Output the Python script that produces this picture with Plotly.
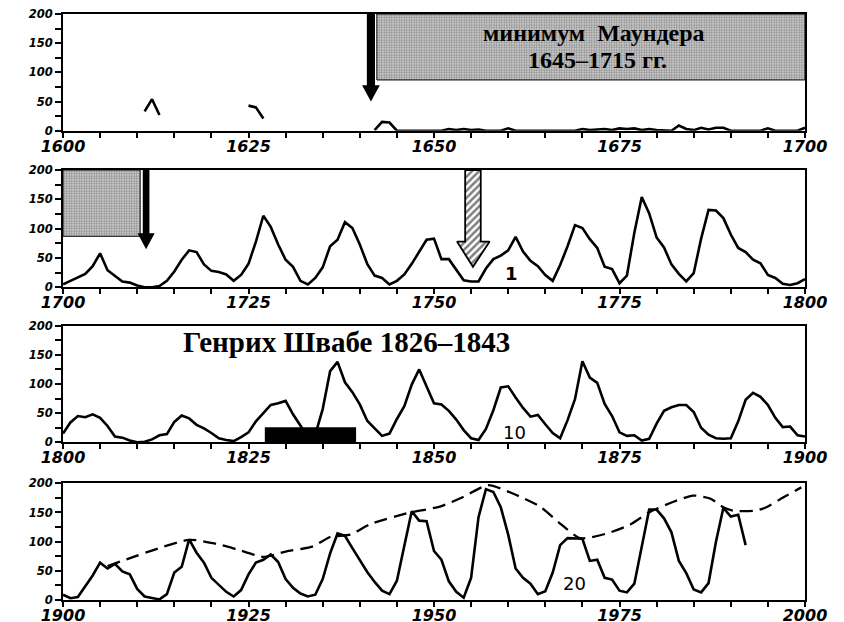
import plotly.graph_objects as go
from plotly.subplots import make_subplots

# ---------------- data ----------------
# Panel 1 (1600-1700): fragmentary observations, gaps as None
p1_years = [1611, 1612, 1613, None, 1625, 1626, 1627, None,
            1642, 1643, 1644, 1645, 1646, 1647, 1648, 1649, 1650, 1651, 1652, 1653,
            1654, 1655, 1656, 1657, 1658, 1659, 1660, 1661, 1662, 1663, 1664, 1665,
            1666, 1667, 1668, 1669, 1670, 1671, 1672, 1673, 1674, 1675, 1676, 1677,
            1678, 1679, 1680, 1681, 1682, 1683, 1684, 1685, 1686, 1687, 1688, 1689,
            1690, 1691, 1692, 1693, 1694, 1695, 1696, 1697, 1698, 1699, 1700]
p1_values = [33, 54, 27, None, 43, 40, 21, None,
             1, 15, 14, 0, 0, 0, 0, 0, 0, 0, 3, 1,
             3, 1, 2, 0, 0, 0, 4, 0, 0, 0, 0, 0,
             0, 0, 0, 0, 3, 1, 2, 3, 1, 4, 3, 4,
             1, 3, 1, 0, 0, 9, 3, 1, 5, 2, 5, 5,
             0, 0, 0, 0, 0, 4, 0, 0, 0, 0, 5]

p2_start = 1700
p2_values = [5, 11, 16, 23, 36, 58, 29, 20, 10, 8, 3, 0, 0, 2, 11, 27, 47, 63, 60, 39,
             28, 26, 22, 11, 21, 40, 78, 122, 103, 73, 47, 35, 11, 5, 16, 34, 70, 81, 111, 101,
             73, 40, 20, 16, 5, 11, 22, 40, 60, 81, 83, 48, 48, 31, 12, 10, 10, 32, 48, 54,
             63, 86, 61, 45, 36, 21, 11, 38, 70, 106, 101, 82, 67, 35, 31, 7, 20, 93, 154, 126,
             85, 68, 39, 23, 10, 24, 83, 132, 131, 118, 90, 67, 60, 47, 41, 21, 16, 6, 4, 7, 14]

p3_start = 1800
p3_values = [15, 34, 45, 43, 48, 42, 28, 10, 8, 3, 0, 1, 5, 12, 14, 35, 46, 41, 30, 24,
             16, 7, 4, 2, 9, 17, 36, 50, 64, 67, 71, 48, 28, 9, 13, 57, 122, 138, 103, 86,
             65, 37, 24, 11, 15, 40, 62, 99, 125, 96, 67, 65, 54, 39, 21, 7, 4, 23, 55, 94,
             96, 77, 59, 44, 47, 31, 16, 7, 38, 74, 139, 111, 102, 66, 45, 17, 11, 12, 3, 6,
             32, 54, 60, 64, 64, 52, 25, 13, 7, 6, 7, 36, 73, 85, 78, 64, 42, 26, 27, 12, 10]

p4_start = 1900
p4_values = [9, 3, 5, 24, 42, 64, 54, 62, 49, 44, 19, 6, 4, 1, 10, 47, 57, 104, 81, 64,
             38, 26, 14, 6, 17, 44, 64, 69, 78, 65, 36, 21, 11, 6, 9, 36, 80, 114, 110, 89,
             68, 48, 31, 16, 10, 33, 93, 152, 136, 135, 84, 69, 32, 14, 4, 38, 142, 190, 185, 159,
             112, 54, 38, 28, 10, 15, 47, 94, 106, 106, 105, 67, 69, 38, 35, 16, 13, 28, 93, 155,
             155, 140, 116, 67, 46, 18, 13, 29, 100, 158, 143, 146, 94]

# dashed envelope in panel 4
env_years = [1906, 1917, 1920.7, 1923.4, 1927, 1930, 1933.7, 1936, 1938.7, 1941.4, 1946.8,
             1950.8, 1954, 1957.3, 1960.7, 1964.3, 1967, 1969.7, 1973.3, 1976.4, 1979.1,
             1982.2, 1984.9, 1987.2, 1989, 1990.3, 1993.3, 1994.8, 1997.1, 1999.5]
env_values = [58, 103, 96, 87, 74, 83, 92, 108, 112, 130, 150,
              160, 177, 197, 182, 160, 131, 106, 114, 129, 151,
              168, 179, 174, 159, 153, 153, 159, 176, 193]

# axis ticks
panel_starts = [1600, 1700, 1800, 1900]
y_tickvals = [0, 25, 50, 75, 100, 125, 150, 175, 200]
y_ticktext = ['0', '', '50', '', '100', '', '150', '', '200']

# text labels
maunder_line1 = 'минимум  Маундера'
maunder_line2 = '1645–1715 гг.'
schwabe_text = 'Генрих Швабе 1826–1843'
curve_labels = ['1', '10', '20']

# ---------------- figure ----------------
OFF = 8  # default page body margin
W, H = 844 - OFF, 622 - OFF
L, R = 63 - OFF, 805 - OFF
panel_px = [(14, 130.7), (170, 287.3), (325.7, 442.3), (483.3, 600)]
panel_px = [(a - OFF, b - OFF) for a, b in panel_px]

fig = make_subplots(rows=4, cols=1)

LINE_W = 2.6
tick_font = dict(family='DejaVu Sans', size=16, color='black', weight='bold')
ytick_font = dict(family='DejaVu Sans', size=11.5, color='black', weight='bold')

stipple = dict(shape='.', fgcolor='#3a3a3a', bgcolor='#d2d2d2', size=2.5, solidity=0.45)

# gray boxes (stippled)
fig.add_trace(go.Scatter(x=[1642.3, 1700, 1700, 1642.3, 1642.3], y=[87, 87, 200, 200, 87],
                         mode='lines', fill='toself', fillpattern=stipple,
                         line=dict(color='black', width=1), hoverinfo='skip', showlegend=False),
              row=1, col=1)
fig.add_trace(go.Scatter(x=[1700, 1710.4, 1710.4, 1700, 1700], y=[87, 87, 200, 200, 87],
                         mode='lines', fill='toself', fillpattern=stipple,
                         line=dict(color='black', width=1), hoverinfo='skip', showlegend=False),
              row=2, col=1)

# data lines
line_style = dict(color='black', width=LINE_W)
fig.add_trace(go.Scatter(x=p1_years, y=p1_values, mode='lines', line=line_style,
                         connectgaps=False, showlegend=False), row=1, col=1)
fig.add_trace(go.Scatter(x=list(range(p2_start, p2_start + len(p2_values))), y=p2_values,
                         mode='lines', line=line_style, showlegend=False), row=2, col=1)
fig.add_trace(go.Scatter(x=list(range(p3_start, p3_start + len(p3_values))), y=p3_values,
                         mode='lines', line=line_style, showlegend=False), row=3, col=1)
fig.add_trace(go.Scatter(x=list(range(p4_start, p4_start + len(p4_values))), y=p4_values,
                         mode='lines', line=line_style, showlegend=False), row=4, col=1)
fig.add_trace(go.Scatter(x=env_years, y=env_values, mode='lines',
                         line=dict(color='black', width=2.3, dash='13px,7px', shape='spline', smoothing=0.6),
                         showlegend=False), row=4, col=1)

# hatched arrow (panel 2)
hx = [1754.2, 1756.3, 1756.3, 1757.5, 1755.25, 1753.1, 1754.2, 1754.2]
hy = [200, 200, 78, 78, 35, 78, 78, 200]
fig.add_trace(go.Scatter(x=hx, y=hy, mode='lines', fill='toself',
                         fillpattern=dict(shape='/', fgcolor='black', bgcolor='white', size=5, solidity=0.5),
                         line=dict(color='black', width=1.8), hoverinfo='skip', showlegend=False),
              row=2, col=1)

# black solid arrows
def arrow_path(xc, half_shaft, half_head, head_top, tip):
    return (f'M {xc-half_shaft},200 L {xc+half_shaft},200 L {xc+half_shaft},{head_top} '
            f'L {xc+half_head},{head_top} L {xc},{tip} L {xc-half_head},{head_top} '
            f'L {xc-half_shaft},{head_top} Z')

fig.add_shape(type='path', path=arrow_path(1641.5, 0.55, 1.2, 78, 50),
              xref='x', yref='y', fillcolor='black', line=dict(color='black', width=0), layer='above')
fig.add_shape(type='path', path=arrow_path(1711.2, 0.45, 1.15, 92, 65),
              xref='x2', yref='y2', fillcolor='black', line=dict(color='black', width=0), layer='above')

# black bar (panel 3)
fig.add_shape(type='rect', x0=1827.2, x1=1839.5, y0=0, y1=26, xref='x3', yref='y3',
              fillcolor='black', line=dict(color='black', width=0), layer='above')

# annotations
serif = dict(family='Liberation Serif', color='black', weight='bold')
fig.add_annotation(x=1671.5, y=167, xref='x', yref='y', text=maunder_line1, showarrow=False,
                   font=dict(size=24, **serif))
fig.add_annotation(x=1672, y=121, xref='x', yref='y', text=maunder_line2, showarrow=False,
                   font=dict(size=24, **serif))
fig.add_annotation(x=1838.2, y=172, xref='x3', yref='y3', text=schwabe_text, showarrow=False,
                   font=dict(size=29, **serif))
lab_font = dict(family='DejaVu Sans', size=18, color='black')
fig.add_annotation(x=1760.5, y=24, xref='x2', yref='y2', text=curve_labels[0], showarrow=False,
                   font=dict(lab_font, weight='bold'))
fig.add_annotation(x=1860.9, y=16, xref='x3', yref='y3', text=curve_labels[1], showarrow=False,
                   font=lab_font)
fig.add_annotation(x=1969, y=29, xref='x4', yref='y4', text=curve_labels[2], showarrow=False,
                   font=lab_font)

# axes
for i, start in enumerate(panel_starts):
    n = '' if i == 0 else str(i + 1)
    top, bot = panel_px[i]
    xt = list(range(start, start + 101, 5))
    xtext = ['<i>' + str(v) + '</i>' if (v - start) % 25 == 0 else '' for v in xt]
    fig.layout['xaxis' + n].update(
        range=[start, start + 100], tickvals=xt, ticktext=xtext,
        ticks='outside', ticklen=5, tickwidth=1.5, tickcolor='black', ticklabelstandoff=-5,
        ticklabeloverflow='allow',
        showline=True, linecolor='black', linewidth=1.8, mirror=True,
        showgrid=False, zeroline=False, tickfont=tick_font, fixedrange=True)
    fig.layout['yaxis' + n].update(
        domain=[1 - bot / H, 1 - top / H],
        range=[0, 200], tickvals=y_tickvals,
        ticktext=['<i>' + t + '</i>' if t else '' for t in y_ticktext],
        ticks='outside', ticklen=6, tickwidth=1.5, tickcolor='black',
        ticklabeloverflow='allow',
        showline=True, linecolor='black', linewidth=1.8, mirror=True,
        showgrid=False, zeroline=False, tickfont=ytick_font, fixedrange=True)

fig.update_layout(width=W, height=H,
                  margin=dict(l=L, r=W - R, t=0, b=0, pad=0, autoexpand=False),
                  plot_bgcolor='white', paper_bgcolor='white', showlegend=False)

fig.write_html('out.html')
